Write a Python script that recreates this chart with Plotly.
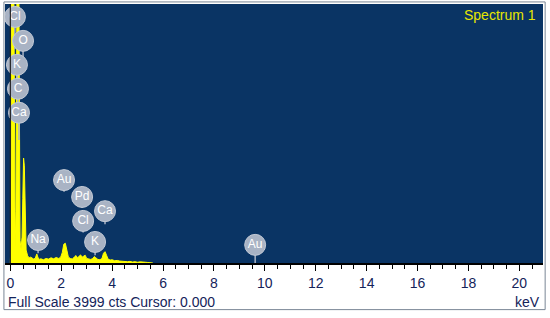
import plotly.graph_objects as go

# EDS spectrum, full scale 3999 counts
energy_kev = [
    0.00, 0.02, 0.05, 0.10, 0.14, 0.16, 0.19, 0.22, 0.25, 0.28, 0.32, 0.35,
    0.38, 0.42, 0.46, 0.49, 0.52, 0.55, 0.58, 0.62, 0.68, 0.74, 0.80, 0.86,
    0.92, 0.98, 1.04, 1.08, 1.14, 1.20, 1.30, 1.40, 1.50, 1.60, 1.70, 1.80,
    1.90, 1.98, 2.04, 2.10, 2.16, 2.22, 2.28, 2.36, 2.44, 2.52, 2.58, 2.64,
    2.70, 2.76, 2.82, 2.88, 2.94, 3.00, 3.08, 3.16, 3.24, 3.30, 3.36, 3.44,
    3.52, 3.60, 3.66, 3.72, 3.78, 3.84, 3.92, 4.00, 4.10, 4.20, 4.30, 4.40,
    4.50, 4.60, 4.70, 4.80, 4.90, 5.00, 5.10, 5.20, 5.30, 5.40, 5.50, 5.60,
]
counts = [
    0, 300, 5000, 6000, 4000, 600, 250, 800, 5000, 6000, 5500, 1200,
    350, 220, 400, 1000, 1620, 1500, 700, 200, 110, 80, 90, 70,
    60, 75, 140, 90, 55, 65, 50, 70, 60, 80, 65, 85,
    70, 90, 160, 290, 305, 200, 90, 70, 60, 95, 115, 80,
    110, 125, 90, 100, 120, 70, 60, 55, 70, 100, 80, 55,
    50, 70, 150, 175, 120, 60, 45, 50, 35, 40, 30, 25,
    30, 20, 25, 15, 20, 12, 18, 10, 12, 8, 5, 0,
]

# element badges: name, energy of badge, height of badge, bottom of stem
label_names = ["Cl", "O", "K", "C", "Ca", "Au", "Pd", "Ca", "Cl", "Na", "K", "Au"]
label_kev = [0.18, 0.50, 0.26, 0.30, 0.34, 2.11, 2.82, 3.72, 2.86, 1.09, 3.33, 9.62]
label_cts = [3800, 3430, 3060, 2690, 2320, 1280, 1020, 800, 650, 355, 325, 280]
stem_cts = [3300, 3000, 2550, 2200, 1900, 1100, 850, 600, 470, 150, 120, 0]

full_scale = 3999
cursor_kev = 0.0
x_ticks = [0, 2, 4, 6, 8, 10, 12, 14, 16, 18, 20]

badge_col = "#a9b3c4"
text_col = "#14235a"

fig = go.Figure()

fig.add_trace(go.Scatter(
    x=energy_kev, y=counts, mode="lines", fill="tozeroy",
    line=dict(color="#ffff00", width=1), fillcolor="#ffff00",
    hoverinfo="skip",
))

# stems
sx, sy = [], []
for k, c, s in zip(label_kev, label_cts, stem_cts):
    sx += [k, k, None]
    sy += [c, s, None]
fig.add_trace(go.Scatter(
    x=sx, y=sy, mode="lines", line=dict(color=badge_col, width=1.5),
    hoverinfo="skip",
))

fig.add_trace(go.Scatter(
    x=label_kev, y=label_cts, mode="markers+text", text=label_names,
    textposition="middle center",
    textfont=dict(family="Arial", size=12, color="white"),
    marker=dict(size=21, color=badge_col, line=dict(color="#c3cad6", width=1)),
    hoverinfo="skip",
))

fig.add_shape(type="line", xref="x", yref="paper", x0=cursor_kev, x1=cursor_kev,
              y0=0, y1=1, line=dict(color="#222222", width=1.2))

# outer frame
fig.add_shape(type="rect", xref="paper", yref="paper", x0=-0.002, x1=1.004,
              y0=-0.18, y1=1.008, line=dict(color="#7a8696", width=1), layer="below")

fig.add_annotation(text="Spectrum 1", xref="paper", yref="paper", x=0.99, y=0.958,
                   xanchor="right", yanchor="middle", showarrow=False,
                   font=dict(family="Arial", size=14, color="#e6e600"))
fig.add_annotation(text=f"Full Scale {full_scale} cts Cursor: {cursor_kev:.3f}",
                   xref="paper", yref="paper", x=0.002, y=-0.15,
                   xanchor="left", yanchor="middle", showarrow=False,
                   font=dict(family="Arial", size=14, color=text_col))
fig.add_annotation(text="keV", xref="paper", yref="paper", x=0.998, y=-0.15,
                   xanchor="right", yanchor="middle", showarrow=False,
                   font=dict(family="Arial", size=14, color=text_col))

fig.update_xaxes(
    range=[-0.21, 20.93], tickvals=x_ticks, ticks="outside", ticklen=6,
    tickcolor="black", showline=True, linecolor="black", linewidth=1.5,
    showgrid=False, zeroline=False,
    tickfont=dict(family="Arial", size=14, color=text_col),
    minor=dict(dtick=0.5, ticks="outside", ticklen=4, tickcolor="black"),
)
fig.update_yaxes(range=[0, full_scale], visible=False)

fig.update_layout(
    width=550, height=318, showlegend=False,
    margin=dict(l=5, r=7, t=4, b=55),
    plot_bgcolor="#0a3464", paper_bgcolor="white",
)

fig.write_html("out.html", config={"displayModeBar": False},
               post_script="document.body.style.margin='0';")
